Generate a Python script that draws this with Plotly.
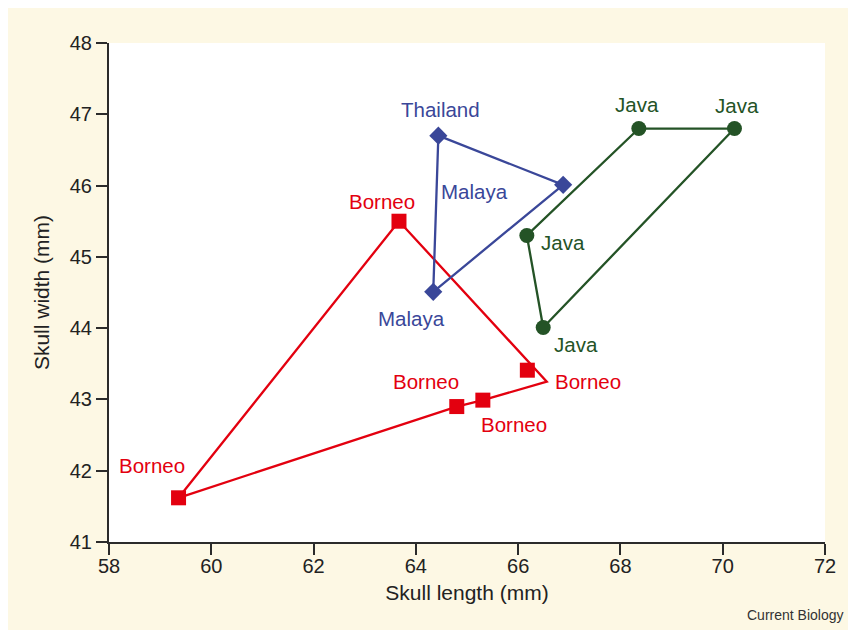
import plotly.graph_objects as go

# ---- data ----
java_x = [68.36, 70.23, 66.49, 66.17]
java_y = [46.80, 46.80, 44.01, 45.30]
java_hull_x = [68.36, 70.23, 66.49, 66.17, 68.36]
java_hull_y = [46.80, 46.80, 44.01, 45.30, 46.80]

thai_malaya_x = [64.44, 66.88, 64.34]
thai_malaya_y = [46.70, 46.01, 44.51]
thai_malaya_hull_x = [64.44, 66.88, 64.34, 64.44]
thai_malaya_hull_y = [46.70, 46.01, 44.51, 46.70]

borneo_x = [63.67, 66.18, 65.31, 64.80, 59.36]
borneo_y = [45.50, 43.41, 42.99, 42.90, 41.62]
borneo_hull_x = [63.67, 66.56, 65.31, 64.80, 59.36, 63.67]
borneo_hull_y = [45.50, 43.25, 42.99, 42.90, 41.62, 45.50]

label_text = ["Thailand", "Malaya", "Malaya",
              "Java", "Java", "Java", "Java",
              "Borneo", "Borneo", "Borneo", "Borneo", "Borneo"]
label_x = [64.49, 65.14, 63.91,
           68.33, 70.28, 66.88, 67.13,
           63.34, 67.37, 64.19, 65.92, 58.85]
label_y = [47.07, 45.91, 44.13,
           47.14, 47.13, 45.20, 43.77,
           45.78, 43.245, 43.245, 42.65, 42.08]
label_group = ["blue", "blue", "blue",
               "green", "green", "green", "green",
               "red", "red", "red", "red", "red"]

x_ticks = [58, 60, 62, 64, 66, 68, 70, 72]
y_ticks = [41, 42, 43, 44, 45, 46, 47, 48]

# ---- style ----
RED = "#e3000f"
BLUE = "#3a4799"
GREEN = "#245326"
CREAM = "#fdf8e4"
AXIS = "#2b2b2b"
FONT = "Liberation Sans, Arial, Helvetica, sans-serif"
colors = {"red": RED, "blue": BLUE, "green": GREEN}

fig = go.Figure()

fig.add_trace(go.Scatter(x=borneo_hull_x, y=borneo_hull_y, mode="lines",
                         line=dict(color=RED, width=2.3), hoverinfo="skip"))
fig.add_trace(go.Scatter(x=borneo_x, y=borneo_y, mode="markers",
                         marker=dict(symbol="square", size=15, color=RED)))

fig.add_trace(go.Scatter(x=thai_malaya_hull_x, y=thai_malaya_hull_y, mode="lines",
                         line=dict(color=BLUE, width=2.3), hoverinfo="skip"))
fig.add_trace(go.Scatter(x=thai_malaya_x, y=thai_malaya_y, mode="markers",
                         marker=dict(symbol="diamond", size=14, color=BLUE)))

fig.add_trace(go.Scatter(x=java_hull_x, y=java_hull_y, mode="lines",
                         line=dict(color=GREEN, width=2.3), hoverinfo="skip"))
fig.add_trace(go.Scatter(x=java_x, y=java_y, mode="markers",
                         marker=dict(symbol="circle", size=15, color=GREEN)))

for t, x, y, g in zip(label_text, label_x, label_y, label_group):
    fig.add_annotation(x=x, y=y, text=t, showarrow=False,
                       xanchor="center", yanchor="middle",
                       font=dict(family=FONT, size=20.5, color=colors[g]))

fig.add_annotation(xref="paper", yref="paper", x=1.0295, y=-0.1463,
                   text="Current Biology", showarrow=False,
                   xanchor="right", yanchor="middle",
                   font=dict(family=FONT, size=14, color="#333333"))

axis_common = dict(showline=True, linecolor=AXIS, linewidth=2,
                   ticks="outside", ticklen=11, tickwidth=2, tickcolor=AXIS,
                   showgrid=False, zeroline=False,
                   tickfont=dict(family=FONT, size=20, color="#222222"),
                   mirror=False)

fig.update_xaxes(range=[58, 72], tickvals=x_ticks, ticklabelstandoff=-6,
                 title=dict(text="Skull length (mm)", standoff=9,
                            font=dict(family=FONT, size=21, color="#222222")),
                 **axis_common)
fig.update_yaxes(range=[41, 48], tickvals=y_ticks,
                 title=dict(text="Skull width (mm)", standoff=14,
                            font=dict(family=FONT, size=21, color="#222222")),
                 **axis_common)

fig.update_layout(width=856, height=630,
                  margin=dict(l=101, r=39, t=35, b=96, pad=0),
                  paper_bgcolor=CREAM, plot_bgcolor="white",
                  showlegend=False,
                  font=dict(family=FONT))

fig.write_html("out.html")
